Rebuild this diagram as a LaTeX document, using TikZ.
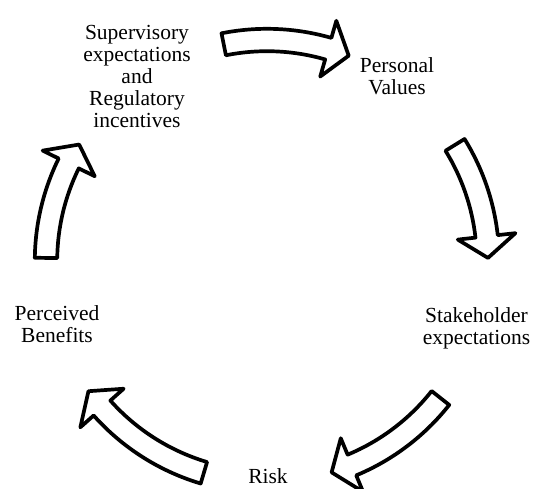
\documentclass[tikz,border=0pt]{standalone}
\usepackage{fontspec}
\setmainfont{Liberation Serif}

\tikzstyle{cyctext} = [align=center,inner sep=0pt,font=\fontsize{21.5}{22}\selectfont]
\tikzstyle{blockarrow} = [draw=black,fill=white,line width=3.7pt,line join=round]

% ring radii (outer/inner shaft, outer/inner barb) and head angle
\def\ro{232.2}
\def\ri{209.8}
\def\rc{221}
\def\hout{250}
\def\hin{192}
\def\hd{5.6}

% curved block arrow on the ring: #1 tail angle, #2 tip angle
\newcommand{\ringarrow}[2]{%
  \draw [blockarrow] ({#1}:\ro pt) arc [start angle={#1}, end angle={#2+\hd}, radius=\ro pt]
    -- ({#2+\hd}:\hout pt) -- ({#2}:\rc pt) -- ({#2+\hd}:\hin pt) -- ({#2+\hd}:\ri pt)
    arc [start angle={#2+\hd}, end angle={#1}, radius=\ri pt] -- cycle;}

\begin{document}
\begin{tikzpicture}[x=1pt,y=1pt]

\useasboundingbox (-267,-227) rectangle (267,261);

% Texts around the ring
\node [cyctext] (sup) at (-130,184.5) {Supervisory\\expectations\\and\\Regulatory\\incentives};
\node [cyctext] (pv) at (130,184.5) {Personal\\Values};
\node [cyctext] (sh) at (209.5,-67.5) {Stakeholder\\expectations};
\node [cyctext] (risk) at (1,-215) {Risk};
\node [cyctext] (pb) at (-210,-63.5) {Perceived\\Benefits};

% Arrows, clockwise
\ringarrow{101.3}{68.3}
\ringarrow{31.7}{0.8}
\ringarrow{-38.3}{-73}
\ringarrow{-106.6}{-143.9}
\ringarrow{179.2}{148.2}

\end{tikzpicture}
\end{document}
